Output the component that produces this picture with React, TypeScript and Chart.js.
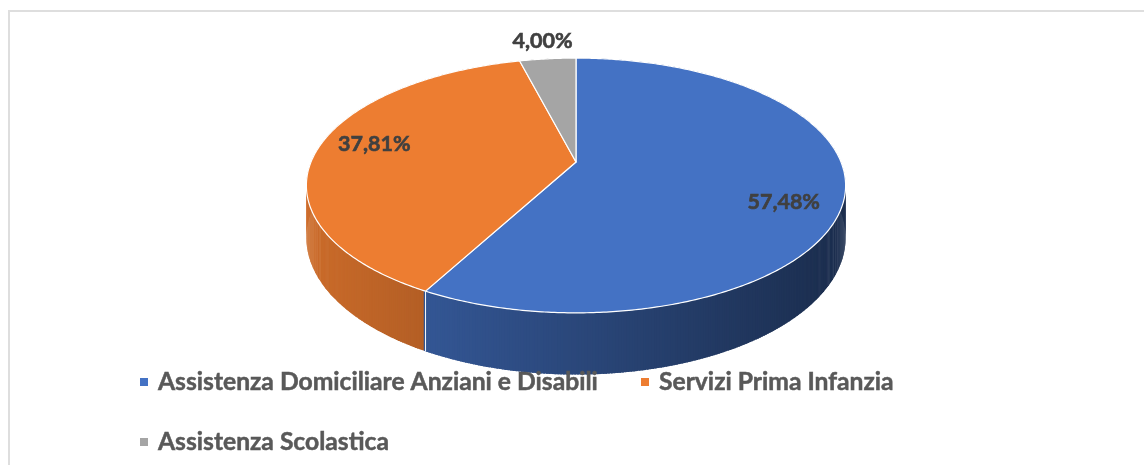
import React, { useEffect, useRef } from "react";
import { Chart, registerables } from "chart.js";

Chart.register(...registerables);

// ---- data ----
const categories = [
  "Assistenza Domiciliare Anziani e Disabili",
  "Servizi Prima Infanzia",
  "Assistenza Scolastica",
];
const shares = [57.48, 37.81, 4.0];
const sliceColors = ["#4472C4", "#ED7D31", "#A5A5A5"];

const fmtPct = (v: number) => v.toFixed(2).replace(".", ",") + "%";

// ---- 3D look (perspective of a tilted disk) ----
const K = -0.1843; // perspective factor
const BR = 0.4643; // vertical squash
const DR = 0.19; // wall depth relative to radius

function hexToRgb(h: string) {
  const n = parseInt(h.slice(1), 16);
  return [(n >> 16) & 255, (n >> 8) & 255, n & 255];
}
function shade(h: string, f: number) {
  const [r, g, b] = hexToRgb(h);
  return `rgb(${Math.round(r * f)},${Math.round(g * f)},${Math.round(b * f)})`;
}

export default function App() {
  const ref = useRef<HTMLCanvasElement>(null);

  useEffect(() => {
    const canvas = ref.current!;

    const proj = (cx: number, cy: number, R: number, a: number, fx = 1, fy = fx) => {
      const x = Math.cos(a) * fx;
      const y = Math.sin(a) * fy;
      const den = 1 + K * Math.sin(a) * fx;
      return [cx + (R * x) / den, cy + (R * BR * y) / den];
    };
    const depth = (R: number, a: number) => (R * DR) / (1 + K * Math.sin(a));

    const boldText = (ctx: CanvasRenderingContext2D, s: string, x: number, y: number) => {
      ctx.fillText(s, x, y);
      ctx.strokeText(s, x, y);
    };

    const pie3d = {
      id: "pie3d",
      beforeDatasetsDraw(chart: any) {
        const ctx = chart.ctx as CanvasRenderingContext2D;
        const arcs = chart.getDatasetMeta(0).data as any[];
        if (!arcs.length) return false;
        const cx = arcs[0].x;
        const cy = arcs[0].y;
        const R = arcs[0].outerRadius;
        const findIdx = (a: number) => {
          for (let i = 0; i < arcs.length; i++) {
            if (a >= arcs[i].startAngle && a < arcs[i].endAngle) return i;
          }
          return arcs.length - 1;
        };
        const start = arcs[0].startAngle;
        const N = 720;
        const step = (Math.PI * 2) / N;
        const segs: { a0: number; a1: number; mid: number; idx: number }[] = [];
        for (let i = 0; i < N; i++) {
          const a0 = start + i * step;
          const mid = a0 + step / 2;
          segs.push({ a0, a1: a0 + step, mid, idx: findIdx(mid) });
        }
        segs.sort((p, q) => Math.sin(p.mid) - Math.sin(q.mid));
        ctx.save();
        const left = cx - R * 1.02;
        const width = R * 2.04;
        for (const s of segs) {
          const a1 = s.a1 + step * 0.6;
          const p0 = proj(cx, cy, R, s.a0);
          const p1 = proj(cx, cy, R, a1);
          const d0 = depth(R, s.a0);
          const d1 = depth(R, a1);
          const t = Math.min(1, Math.max(0, ((p0[0] + p1[0]) / 2 - left) / width));
          const f = 0.86 - 0.47 * t;
          ctx.fillStyle = shade(sliceColors[s.idx], f);
          ctx.beginPath();
          ctx.moveTo(p0[0], p0[1]);
          ctx.lineTo(p1[0], p1[1]);
          ctx.lineTo(p1[0], p1[1] + d1);
          ctx.lineTo(p0[0], p0[1] + d0);
          ctx.closePath();
          ctx.fill();
        }
        // light seams between slices on the wall
        ctx.strokeStyle = "rgba(255,255,255,0.75)";
        ctx.lineWidth = 1;
        for (const arc of arcs) {
          for (const a of [arc.startAngle, arc.endAngle]) {
            if (Math.sin(a) > 0.05) {
              const p = proj(cx, cy, R, a);
              ctx.beginPath();
              ctx.moveTo(p[0], p[1]);
              ctx.lineTo(p[0], p[1] + depth(R, a));
              ctx.stroke();
            }
          }
        }
        // top faces
        ctx.lineJoin = "round";
        arcs.forEach((arc, i) => {
          ctx.beginPath();
          ctx.moveTo(cx, cy);
          const n = Math.max(4, Math.ceil((arc.endAngle - arc.startAngle) / 0.01));
          for (let j = 0; j <= n; j++) {
            const a = arc.startAngle + ((arc.endAngle - arc.startAngle) * j) / n;
            const p = proj(cx, cy, R, a);
            ctx.lineTo(p[0], p[1]);
          }
          ctx.closePath();
          ctx.fillStyle = sliceColors[i];
          ctx.fill();
          ctx.strokeStyle = "#ffffff";
          ctx.lineWidth = 1.2;
          ctx.stroke();
        });
        ctx.restore();
        return false;
      },
      afterDraw(chart: any) {
        const ctx = chart.ctx as CanvasRenderingContext2D;
        const arcs = chart.getDatasetMeta(0).data as any[];
        if (!arcs.length) return;
        const cx = arcs[0].x;
        const cy = arcs[0].y;
        const R = arcs[0].outerRadius;
        ctx.save();
        // value labels
        const ls = 21.5;
        ctx.font = `bold ${ls}px Lato`;
        ctx.fillStyle = "#404040";
        ctx.strokeStyle = "#404040";
        ctx.lineWidth = 0.6;
        ctx.textAlign = "center";
        ctx.textBaseline = "alphabetic";
        arcs.forEach((arc, i) => {
          const mid = (arc.startAngle + arc.endAngle) / 2;
          const outside = shares[i] < 10;
          const p = outside
            ? proj(cx, cy, R, mid, 1.22)
            : proj(cx, cy, R, mid, 0.78, 1.25);
          boldText(ctx, fmtPct(shares[i]), p[0], p[1] + ls * 0.36);
        });
        // legend
        ctx.font = `bold 23px Lato`;
        const w0 = ctx.measureText(categories[0]).width;
        const fs = 23 * (440 / w0);
        ctx.font = `bold ${fs}px Lato`;
        ctx.textAlign = "left";
        ctx.lineWidth = 0.5;
        const colX = [130, 631];
        const rowY = [378, 438];
        categories.forEach((c, i) => {
          const col = i % 2;
          const row = Math.floor(i / 2);
          const bx = colX[col];
          const by = rowY[row];
          ctx.fillStyle = sliceColors[i];
          ctx.fillRect(bx, by - 12, 8, 8);
          ctx.fillStyle = "#595959";
          ctx.strokeStyle = "#595959";
          boldText(ctx, c, bx + 18, by);
        });
        ctx.restore();
      },
    };

    const chart = new Chart(canvas, {
      type: "pie",
      data: {
        labels: categories,
        datasets: [
          {
            data: shares,
            backgroundColor: sliceColors,
            borderColor: "#ffffff",
            borderWidth: 1,
            radius: 265,
          } as any,
        ],
      },
      options: {
        animation: false,
        responsive: false,
        events: [],
        layout: { padding: { left: 0, right: 8, top: 0, bottom: 160 } },
        plugins: {
          legend: { display: false },
          tooltip: { enabled: false },
        },
      },
      plugins: [pie3d],
    });
    if ((document as any).fonts) {
      (document as any).fonts.load("bold 23px Lato").then(() => chart.draw());
    }
    return () => chart.destroy();
  }, []);

  return (
    <div
      style={{
        position: "fixed",
        left: 8,
        top: 10,
        width: 1140,
        height: 460,
        borderLeft: "2px solid #dedede",
        borderTop: "2px solid #dedede",
        background: "#ffffff",
      }}
    >
      <canvas ref={ref} width={1140} height={460} style={{ display: "block" }} />
    </div>
  );
}
